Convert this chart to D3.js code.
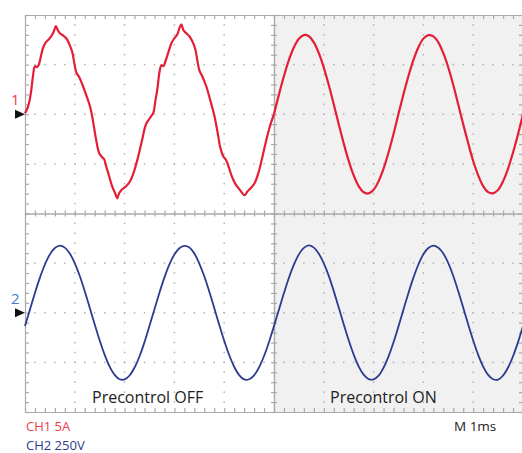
<!DOCTYPE html>
<html><head><meta charset="utf-8">
<script src="https://cdn.jsdelivr.net/npm/d3@7"></script>
<style>body{margin:0;background:#fff}svg{display:block}</style>
</head><body><svg id="c" width="522" height="453"></svg>
<script>
// ---- data ----
// CH1 current (A), Precontrol OFF half: irregular samples (time ms, amps)
const redOffTime = [0,0.04,0.08,0.12,0.16,0.20,0.24,0.28,0.32,0.36,0.42,0.48,0.54,0.58,0.62,0.66,0.70,0.76,0.83,0.89,0.95,0.99,1.03,1.09,1.15,1.23,1.31,1.37,1.43,1.49,1.55,1.59,1.63,1.69,1.75,1.81,1.85,1.89,1.95,2.03,2.11,2.19,2.27,2.35,2.43,2.52,
  2.58,2.62,2.66,2.70,2.74,2.78,2.82,2.88,2.94,3.00,3.06,3.10,3.14,3.18,3.24,3.30,3.36,3.42,3.46,3.50,3.56,3.64,3.72,3.80,3.86,3.92,3.98,4.04,4.10,4.16,4.23,4.29,4.35,4.41,4.47,4.53,4.61,4.69,4.77,4.85,4.93,5.0];
const redOffAmps = [0.10,0.50,1.11,2.22,3.83,4.84,4.74,5.04,5.85,6.65,7.26,7.56,7.96,8.37,8.87,8.47,8.16,7.96,7.66,7.06,6.25,5.14,4.23,3.73,3.02,1.92,0.71,-0.81,-2.62,-3.93,-4.33,-4.54,-5.24,-6.25,-7.26,-7.96,-8.47,-7.96,-7.56,-7.26,-6.75,-5.75,-4.33,-2.62,-1.01,-0.30,
  0.20,1.41,2.62,4.23,4.94,4.84,5.34,6.25,7.16,7.66,8.06,8.67,9.07,8.47,8.16,7.86,7.36,6.55,5.44,4.44,3.83,2.82,1.41,-0.10,-1.61,-3.33,-4.23,-4.64,-5.44,-6.35,-7.06,-7.46,-7.86,-8.16,-7.76,-7.46,-6.96,-5.85,-4.23,-2.52,-1.01,0];
// CH1 current (A), Precontrol ON half: samples every 0.1 ms from 5.0 to 10.0 ms
const redOnAmps = [0,2.0,3.85,5.48,6.75,7.61,7.98,7.86,7.24,6.16,4.70,2.94,1.0,-1.0,-2.94,-4.70,-6.16,-7.24,-7.86,-7.98,-7.61,-6.75,-5.48,-3.85,-2.0,
  0.05,2.02,3.86,5.47,6.76,7.62,7.97,7.85,7.25,6.15,4.71,2.95,0.98,-1.02,-2.93,-4.71,-6.15,-7.25,-7.85,-7.97,-7.62,-6.74,-5.47,-3.86,-2.02,0.0];
// CH2 voltage (V): samples every 0.1 ms from 0 to 10 ms
const blueVolts = [-67,17,100,177,243,294,326,338,328,298,249,185,108,25,-59,-140,-212,-271,-313,-335,-336,-316,-276,-219,-148,
  -66,18,101,178,244,293,325,337,329,299,248,184,107,24,-60,-141,-213,-272,-314,-336,-335,-315,-275,-218,-147,
  -67,16,99,176,242,294,327,339,328,297,249,186,109,26,-58,-139,-211,-270,-312,-334,-336,-317,-277,-220,-149,
  -68,17,100,177,243,295,326,338,327,298,250,185,108,25,-59,-140,-212,-271,-313,-335,-337,-316,-276,-219,-148,-67];
const sectionLabels = ["Precontrol OFF","Precontrol ON"];
const channelLabels = ["CH1 5A","CH2 250V"];
const timebaseLabel = "M 1ms";
const markerLabels = ["1","2"];
const ch1PerDiv = 5, ch2PerDiv = 250;

// ---- scales ----
const svg = d3.select("#c");
const x = d3.scaleLinear().domain([0,10]).range([25,523]);
const yDiv = d3.scaleLinear().domain([4,-4]).range([15,412]);
const y1 = a => yDiv(2 + a/ch1PerDiv);
const y2 = v => yDiv(-2 + v/ch2PerDiv);

// background of ON half
svg.append("rect").attr("x",x(5)).attr("y",yDiv(4))
  .attr("width",x(10)-x(5)).attr("height",yDiv(-4)-yDiv(4)).attr("fill","#f1f1f1");

// dotted grid
const minorX = d3.range(51).map(i=>i*0.2);
const minorY = d3.range(41).map(i=>-4+i*0.2);
const dotCol = "#b2b2b2";
const gDots = svg.append("g").attr("fill",dotCol);
[1,2,3,4,6,7,8,9].forEach(xi=>{
  minorY.slice(1,-1).forEach(yv=>{
    gDots.append("rect").attr("x",x(xi)-0.75).attr("y",yDiv(yv)-0.75).attr("width",1.5).attr("height",1.5);
  });
});
[-3,-2,-1,1,2,3].forEach(yi=>{
  minorX.slice(1,-1).forEach(xv=>{
    gDots.append("rect").attr("x",x(xv)-0.75).attr("y",yDiv(yi)-0.75).attr("width",1.5).attr("height",1.5);
  });
});

// borders and center axes
const axCol = "#a9a9a9";
function styleAxis(g){ g.selectAll("path,line").attr("stroke",axCol).attr("stroke-width",1.2); g.selectAll("text").remove(); }
svg.append("g").attr("transform",`translate(0,${yDiv(4)})`).call(d3.axisBottom(x).tickValues(minorX).tickSize(4).tickSizeOuter(0).tickFormat("")).call(styleAxis);
svg.append("g").attr("transform",`translate(0,${yDiv(-4)})`).call(d3.axisTop(x).tickValues(minorX).tickSize(4).tickSizeOuter(0).tickFormat("")).call(styleAxis);
svg.append("g").attr("transform",`translate(${x(0)},0)`).call(d3.axisRight(yDiv).tickValues(minorY).tickSize(4).tickSizeOuter(0).tickFormat("")).call(styleAxis);
svg.append("g").attr("transform",`translate(${x(10)},0)`).call(d3.axisLeft(yDiv).tickValues(minorY).tickSize(4).tickSizeOuter(0).tickFormat("")).call(styleAxis);
svg.append("g").attr("transform",`translate(0,${yDiv(0)})`).call(d3.axisTop(x).tickValues(minorX).tickSize(3).tickSizeOuter(0).tickFormat("")).call(styleAxis);
svg.append("g").attr("transform",`translate(0,${yDiv(0)})`).call(d3.axisBottom(x).tickValues(minorX).tickSize(3).tickSizeOuter(0).tickFormat("")).call(styleAxis);
svg.append("g").attr("transform",`translate(${x(5)},0)`).call(d3.axisLeft(yDiv).tickValues(minorY).tickSize(3).tickSizeOuter(0).tickFormat("")).call(styleAxis);
svg.append("g").attr("transform",`translate(${x(5)},0)`).call(d3.axisRight(yDiv).tickValues(minorY).tickSize(3).tickSizeOuter(0).tickFormat("")).call(styleAxis);

// traces
const redCol = "#e41e36", blueCol = "#2c3b8f";
const redOff = redOffTime.map((t,i)=>[t,redOffAmps[i]]);
const redOn = redOnAmps.map((a,i)=>[5+i*0.1,a]);
const blue = blueVolts.map((v,i)=>[i*0.1,v]);
const line1 = d3.line().x(d=>x(d[0])).y(d=>y1(d[1])).curve(d3.curveCatmullRom);
const line2 = d3.line().x(d=>x(d[0])).y(d=>y2(d[1])).curve(d3.curveCatmullRom);
svg.append("path").attr("d",line1(redOff)).attr("fill","none").attr("stroke",redCol).attr("stroke-width",2.2).attr("stroke-linejoin","round");
svg.append("path").attr("d",line1(redOn)).attr("fill","none").attr("stroke",redCol).attr("stroke-width",2.2).attr("stroke-linejoin","round");
svg.append("path").attr("d",line2(blue)).attr("fill","none").attr("stroke",blueCol).attr("stroke-width",1.8).attr("stroke-linejoin","round");

// channel markers
const markerY = [y1(0), y2(0)];
const markerCols = ["#e8414c","#3b7dc0"];
const font = "'Open Sans', sans-serif";
markerY.forEach((my,i)=>{
  svg.append("path").attr("d",`M${x(0)-10},${my-4.5}L${x(0)},${my}L${x(0)-10},${my+4.5}Z`).attr("fill","#111");
  svg.append("text").attr("x",11).attr("y",my-9).text(markerLabels[i])
    .attr("font-family",font).attr("font-size",15).attr("fill",markerCols[i]);
});

// labels
svg.append("text").attr("x",92).attr("y",403).text(sectionLabels[0]).attr("font-family",font).attr("font-size",16).attr("fill","#222");
svg.append("text").attr("x",330).attr("y",403).text(sectionLabels[1]).attr("font-family",font).attr("font-size",16).attr("fill","#222");
svg.append("text").attr("x",26).attr("y",431).text(channelLabels[0]).attr("font-family",font).attr("font-size",13).attr("fill","#ef3d48");
svg.append("text").attr("x",26).attr("y",450).text(channelLabels[1]).attr("font-family",font).attr("font-size",13).attr("fill","#2d3b8c");
svg.append("text").attr("x",454).attr("y",431).text(timebaseLabel).attr("font-family",font).attr("font-size",13.5).attr("fill","#222");
</script></body></html>
